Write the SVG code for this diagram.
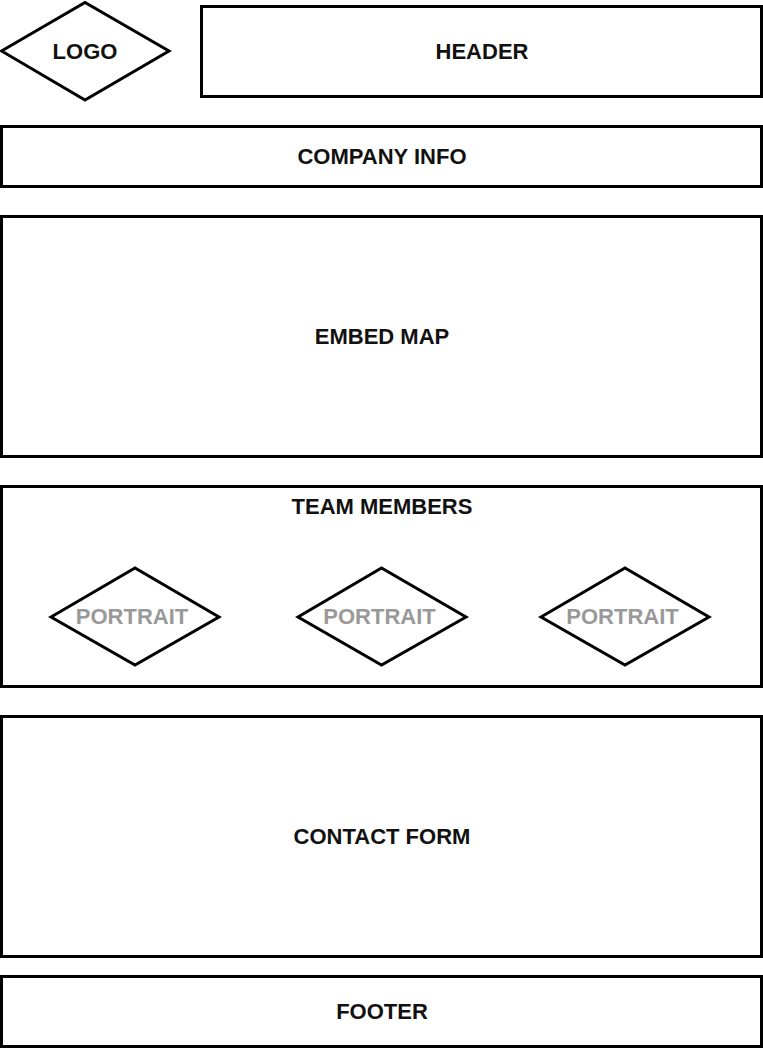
<svg xmlns="http://www.w3.org/2000/svg" width="763" height="1048" viewBox="0 0 763 1048">
<style>
.s{fill:#fff;stroke:#000;stroke-width:3}
.t{font-family:"Liberation Sans",Arial,sans-serif;font-size:22px;font-weight:bold;fill:#111;text-anchor:middle}
.p{fill:#999}
</style>
<rect width="763" height="1048" fill="#fff"/>
<g id="connectors"></g>
<g id="logo"><polygon class="s" points="1.500,51 85,2.500 169,51 85,100"/><text class="t" x="85" y="58.500">LOGO</text></g>
<g id="header"><rect class="s" x="201.500" y="6.500" width="560" height="90"/><text class="t" x="482" y="58.500">HEADER</text></g>
<g id="company"><rect class="s" x="1.500" y="126.500" width="760" height="60"/><text class="t" x="382" y="163.500">COMPANY INFO</text></g>
<g id="map"><rect class="s" x="1.500" y="216.500" width="760" height="240"/><text class="t" x="382" y="343.500">EMBED MAP</text></g>
<g id="team"><rect class="s" x="1.500" y="486.500" width="760" height="200"/><text class="t" x="382" y="513.500">TEAM MEMBERS</text></g>
<g id="portrait1"><polygon class="s" points="51,617 135,568 219,617 135,665"/><text class="t p" x="132" y="623.500">PORTRAIT</text></g>
<g id="portrait2"><polygon class="s" points="298,617 381.500,568 466,617 381.500,665"/><text class="t p" x="379.500" y="623.500">PORTRAIT</text></g>
<g id="portrait3"><polygon class="s" points="541,617 625,568 709,617 625,665"/><text class="t p" x="622.500" y="623.500">PORTRAIT</text></g>
<g id="contact"><rect class="s" x="1.500" y="716.500" width="760" height="240"/><text class="t" x="382" y="843.500">CONTACT FORM</text></g>
<g id="footer"><rect class="s" x="1.500" y="976.500" width="760" height="70"/><text class="t" x="382" y="1018.500">FOOTER</text></g>
</svg>
